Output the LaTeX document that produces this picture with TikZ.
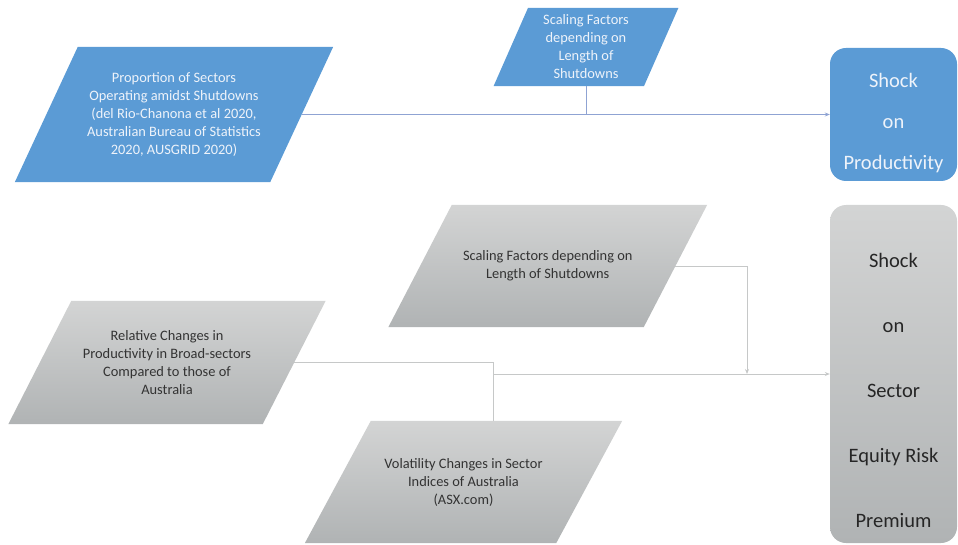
\documentclass[tikz,border=0pt]{standalone}
\usepackage{fontspec}
\setmainfont{Carlito}
\usetikzlibrary{arrows.meta,backgrounds}
\definecolor{shockblue}{HTML}{5B9BD5}
\definecolor{bluetxt}{HTML}{EEF3FA}
\definecolor{blueline}{HTML}{8FA3D3}
\definecolor{graytop}{HTML}{D3D4D4}
\definecolor{graybot}{HTML}{B0B3B4}
\definecolor{graytxt}{HTML}{333333}
\definecolor{grayline}{HTML}{C6C8C8}
% slanted backdrop behind a text node: node, half slant, fill options
\newcommand{\slantback}[3]{\path[#3] ([xshift=#2]#1.north west) -- ([xshift=#2]#1.north east)
 -- ([xshift=-#2]#1.south east) -- ([xshift=-#2]#1.south west) -- cycle;}
\begin{document}
\begin{tikzpicture}[x=1pt,y=-1pt,
 para/.style={inner sep=0pt, align=center, font=\fontsize{14.4}{18}\selectfont},
 bluepara/.style={para, text=bluetxt},
 graypara/.style={para, text=graytxt},
 shockbox/.style={rounded corners=16pt, minimum width=127pt, inner sep=0pt, align=center},
 link/.style={line width=.8pt, -{Stealth[length=5pt,width=4pt]}}]
\useasboundingbox (0,0) rectangle (958,545);
% productivity shock
\node[bluepara, minimum width=255pt, minimum height=135pt] (prop) at (174,114.5)
 {Proportion of Sectors\\ Operating amidst Shutdowns\\ (del Rio-Chanona et al 2020,\\ Australian Bureau of Statistics\\ 2020, AUSGRID 2020)};
\node[bluepara, minimum width=150pt, minimum height=78pt] (scaleone) at (586,47)
 {Scaling Factors\\ depending on\\ Length of\\ Shutdowns};
\node[shockbox, fill=shockblue, text=bluetxt, minimum height=133pt, font=\fontsize{20.5}{41}\selectfont] (shockone) at (893.5,114.5)
 {\rule{0pt}{31pt}Shock\\ on\\ Productivity};
% equity risk premium shock
\node[graypara, minimum width=255pt, minimum height=122pt] (scaletwo) at (547.75,266)
 {Scaling Factors depending on\\ Length of Shutdowns};
\node[graypara, minimum width=254pt, minimum height=123pt] (rel) at (167,362.5)
 {Relative Changes in\\ Productivity in Broad-sectors\\ Compared to those of\\ Australia};
\node[graypara, minimum width=251pt, minimum height=122pt] (vol) at (463.5,482)
 {Volatility Changes in Sector\\ Indices of Australia\\ (ASX.com)};
\node[shockbox, top color=graytop, bottom color=graybot, text=black!85, minimum height=338pt, font=\fontsize{20.5}{65}\selectfont] (shocktwo) at (893.5,374)
 {\rule{0pt}{47pt}Shock\\ on\\ Sector\\ Equity Risk\\ Premium};
\begin{scope}[on background layer]
\slantback{prop}{31.5pt}{fill=shockblue}
\slantback{scaleone}{17.25pt}{fill=shockblue}
\foreach \n/\s in {scaletwo/31.75pt, rel/31.5pt, vol/33pt}
 {\slantback{\n}{\s}{top color=graytop, bottom color=graybot}}
\end{scope}
\coordinate (join) at ([xshift=30pt]vol.north |- shocktwo.west);
\coordinate (drop) at (747,0 |- shocktwo.west);
% connectors
\draw[link, blueline] (prop.east) -- (shockone.west);
\draw[line width=.8pt, blueline] (scaleone.south) -- (scaleone.south |- prop.east);
\draw[line width=.8pt, grayline] (rel.east) -| ([xshift=30pt]vol.north);
\draw[link, grayline] (join) -- (shocktwo.west);
\draw[link, grayline] (scaletwo.east) -| (drop);
\end{tikzpicture}
\end{document}
